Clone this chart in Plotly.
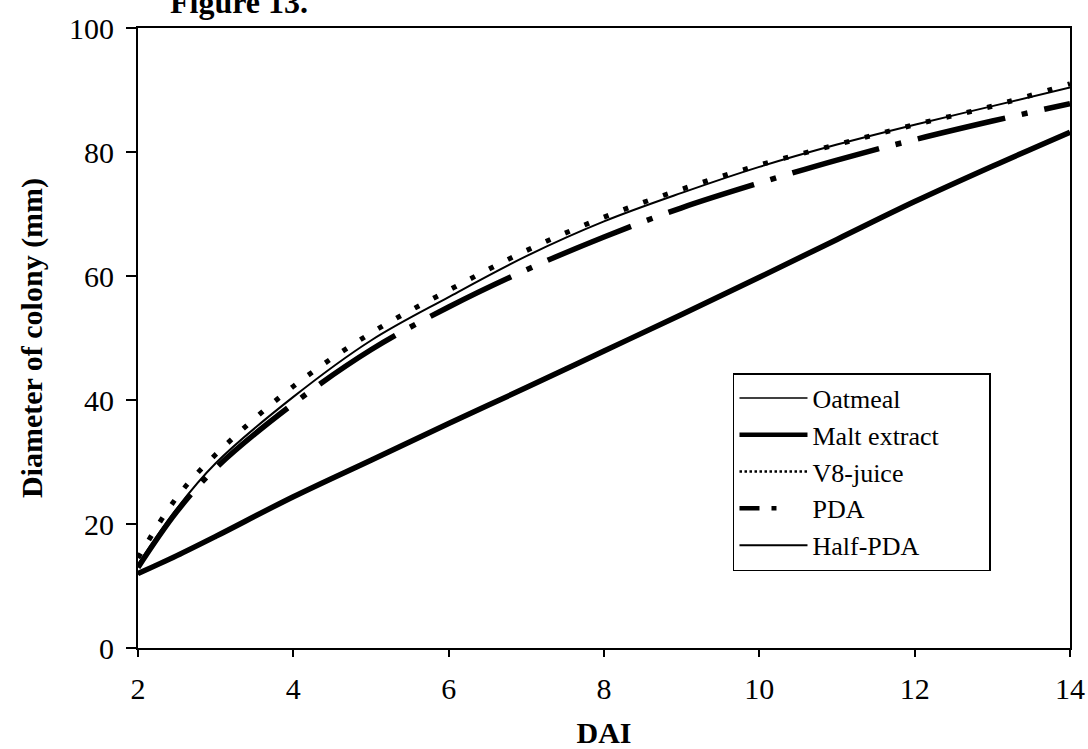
import plotly.graph_objects as go

# Days after inoculation (DAI)
dai = [2, 2.5, 3, 4, 5, 6, 7, 8, 9, 10, 11, 12, 13, 14]

# Colony diameter (mm) on each medium
oatmeal = [13.5, 22.5, 29.8, 40.5, 49.6, 56.6, 63.2, 68.8, 73.4, 77.6, 81.2, 84.4, 87.4, 90.4]
malt_extract = [12.0, 14.9, 18.0, 24.4, 30.3, 36.2, 42.0, 47.9, 53.8, 59.8, 65.9, 72.0, 77.7, 83.2]
v8_juice = [14.5, 24.3, 31.2, 42.2, 50.8, 57.7, 64.1, 69.5, 74.0, 77.9, 81.2, 84.4, 87.4, 91.0]
pda = [13.0, 22.0, 29.0, 39.4, 48.1, 55.0, 61.0, 66.3, 71.0, 75.0, 78.7, 82.0, 85.0, 87.8]
half_pda = [11.9, 14.8, 17.9, 24.3, 30.2, 36.1, 41.9, 47.8, 53.7, 59.7, 65.8, 71.9, 77.6, 83.1]

media = ["Oatmeal", "Malt extract", "V8-juice", "PDA", "Half-PDA"]

x_ticks = [2, 4, 6, 8, 10, 12, 14]
y_ticks = [0, 20, 40, 60, 80, 100]

SERIF = "Liberation Serif, Times New Roman, serif"
INK = "black"

# Line style of each curve on the chart, and the shorter key drawn in the legend
curve_style = {
    "Oatmeal": dict(color=INK, width=2),
    "Malt extract": dict(color=INK, width=5.5),
    "V8-juice": dict(color=INK, width=5, dash="5px,16px"),
    "PDA": dict(color=INK, width=5.5, dash="90px,17px,6px,17px"),
    "Half-PDA": dict(color=INK, width=2),
}
key_style = {
    "Oatmeal": dict(color=INK, width=1.5),
    "Malt extract": dict(color=INK, width=4.5),
    "V8-juice": dict(color=INK, width=2.5, dash="2.5px,2.5px"),
    "PDA": dict(color=INK, width=4.5, dash="20px,12px,5px,80px"),
    "Half-PDA": dict(color=INK, width=2),
}
values = {
    "Oatmeal": oatmeal,
    "Malt extract": malt_extract,
    "V8-juice": v8_juice,
    "PDA": pda,
    "Half-PDA": half_pda,
}

fig = go.Figure()

# Curves, drawn bottom to top so the thin lines stay visible
for name in ["V8-juice", "Half-PDA", "Malt extract", "PDA", "Oatmeal"]:
    fig.add_trace(go.Scatter(
        x=dai, y=values[name], name=name, mode="lines", line_shape="spline",
        line=curve_style[name], showlegend=False))

# Legend keys (trailing spaces widen the legend box)
for name in media:
    fig.add_trace(go.Scatter(
        x=[None], y=[None], name=name + "\u00a0" * 7, mode="lines",
        line=key_style[name], showlegend=True))

fig.update_layout(
    width=1088, height=749,
    margin=dict(l=138, r=18, t=28, b=101),
    paper_bgcolor="white", plot_bgcolor="white",
    font=dict(family=SERIF, size=28, color=INK),
    legend=dict(
        x=0.6384, y=0.4435, xanchor="left", yanchor="top",
        bgcolor="white", bordercolor=INK, borderwidth=1.5,
        font=dict(family=SERIF, size=26, color=INK),
        traceorder="normal", itemwidth=68,
    ),
    annotations=[dict(
        text="<b>Figure 13.</b>", xref="paper", yref="paper",
        x=0.032, y=1.042, xanchor="left", yanchor="middle",
        showarrow=False, font=dict(family=SERIF, size=32, color=INK),
    )],
)

fig.update_xaxes(
    range=[2, 14], tickvals=x_ticks, ticktext=[str(v) for v in x_ticks],
    showgrid=False, zeroline=False, automargin=False,
    showline=True, linecolor=INK, linewidth=2, mirror=True,
    ticks="outside", ticklen=7, tickwidth=1.5, tickcolor=INK,
    ticklabelstandoff=6,
    tickfont=dict(family=SERIF, size=30, color=INK),
    title=dict(text="<b>DAI</b>", font=dict(family=SERIF, size=30, color=INK), standoff=20),
)
fig.update_yaxes(
    range=[0, 100], tickvals=y_ticks, ticktext=[str(v) for v in y_ticks],
    showgrid=False, zeroline=False, automargin=False,
    showline=True, linecolor=INK, linewidth=2, mirror=True,
    ticks="outside", ticklen=10, tickwidth=1.5, tickcolor=INK,
    ticklabelstandoff=6,
    tickfont=dict(family=SERIF, size=30, color=INK),
    title=dict(text="<b>Diameter of colony (mm)</b>", font=dict(family=SERIF, size=30, color=INK), standoff=18),
)

fig.write_html("out.html")
